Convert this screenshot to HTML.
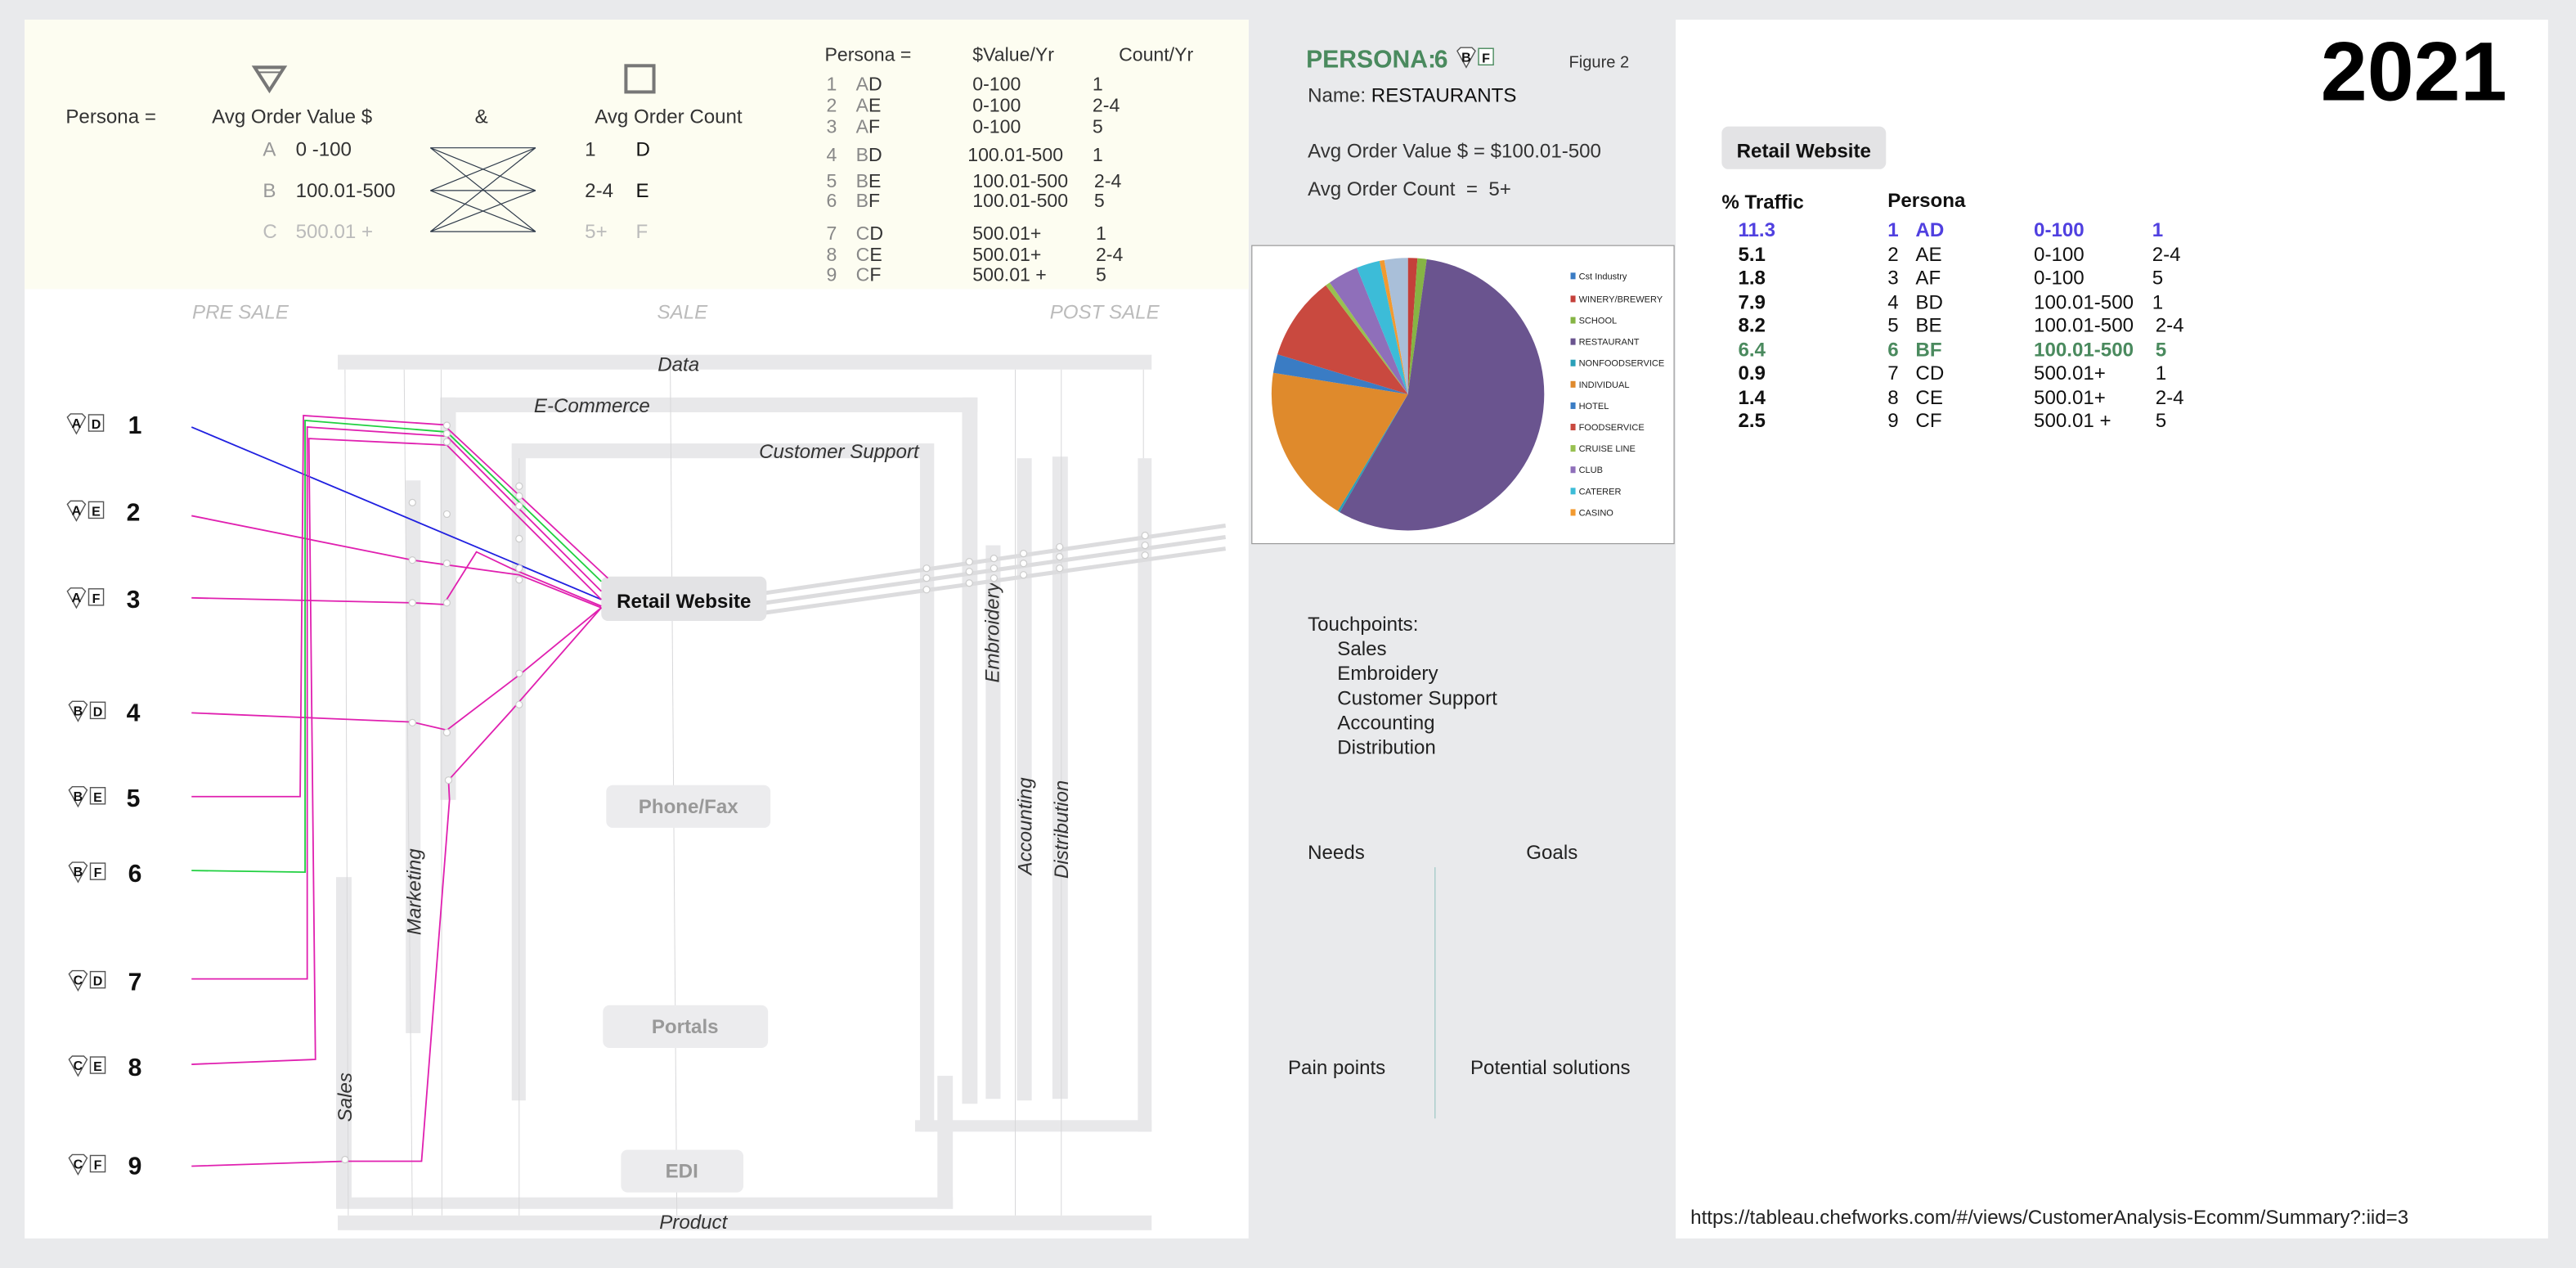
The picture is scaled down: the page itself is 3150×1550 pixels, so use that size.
<!DOCTYPE html>
<html><head><meta charset="utf-8"><style>
html,body{margin:0;padding:0;background:#e9eaec;}
svg{display:block;font-family:"Liberation Sans",sans-serif;}
</style></head><body>
<svg width="3150" height="1550" viewBox="0 0 1568 772" preserveAspectRatio="none" xmlns="http://www.w3.org/2000/svg">
<defs>
<g id="sh"><polygon points="0,-4 2,-6 9,-6 11,-4 5.5,6" fill="#fff" stroke="#555" stroke-width="0.7"/></g>
</defs>
<rect x="0" y="0" width="1568" height="772" fill="#e9eaec"/>
<rect x="15" y="12" width="745" height="742" fill="#fff"/>
<rect x="15" y="12" width="745" height="164" fill="#fdfdf1"/>
<rect x="1020" y="12" width="531" height="742" fill="#fff"/>

<g font-size="12" fill="#333">
<text x="40" y="75">Persona =</text>
<text x="129" y="75">Avg Order Value $</text>
<text x="289" y="75">&amp;</text>
<text x="362" y="75">Avg Order Count</text>
</g>
<polygon points="155,41 173,41 164,55" fill="none" stroke="#777" stroke-width="2"/>
<line x1="157" y1="44" x2="171" y2="44" stroke="#777" stroke-width="1"/>
<rect x="381" y="40" width="17" height="16" fill="none" stroke="#777" stroke-width="2"/>
<g font-size="12">
<text x="160" y="95" fill="#999">A</text><text x="180" y="95" fill="#333">0 -100</text>
<text x="160" y="120" fill="#999">B</text><text x="180" y="120" fill="#333">100.01-500</text>
<text x="160" y="145" fill="#bbb">C</text><text x="180" y="145" fill="#bbb">500.01 +</text>
<text x="356" y="95" fill="#333">1</text><text x="387" y="95" fill="#111">D</text>
<text x="356" y="120" fill="#333">2-4</text><text x="387" y="120" fill="#111">E</text>
<text x="356" y="145" fill="#bbb">5+</text><text x="387" y="145" fill="#bbb">F</text>
</g>
<g stroke="#2e3a4a" stroke-width="0.6">
<line x1="262" y1="90" x2="326" y2="90"/><line x1="262" y1="90" x2="326" y2="116"/><line x1="262" y1="90" x2="326" y2="141"/>
<line x1="262" y1="116" x2="326" y2="90"/><line x1="262" y1="116" x2="326" y2="116"/><line x1="262" y1="116" x2="326" y2="141"/>
<line x1="262" y1="141" x2="326" y2="90"/><line x1="262" y1="141" x2="326" y2="116"/><line x1="262" y1="141" x2="326" y2="141"/>
</g>
<g font-size="11.5" fill="#333">
<text x="502" y="37">Persona =</text><text x="592" y="37">$Value/Yr</text><text x="681" y="37">Count/Yr</text>
</g>
<g font-size="11.5" fill="#333">
<text x="503" y="55" fill="#888">1</text><text x="521" y="55"><tspan fill="#888">A</tspan>D</text><text x="592" y="55">0-100</text><text x="665" y="55">1</text>
<text x="503" y="68" fill="#888">2</text><text x="521" y="68"><tspan fill="#888">A</tspan>E</text><text x="592" y="68">0-100</text><text x="665" y="68">2-4</text>
<text x="503" y="81" fill="#888">3</text><text x="521" y="81"><tspan fill="#888">A</tspan>F</text><text x="592" y="81">0-100</text><text x="665" y="81">5</text>
<text x="503" y="98" fill="#888">4</text><text x="521" y="98"><tspan fill="#888">B</tspan>D</text><text x="589" y="98">100.01-500</text><text x="665" y="98">1</text>
<text x="503" y="114" fill="#888">5</text><text x="521" y="114"><tspan fill="#888">B</tspan>E</text><text x="592" y="114">100.01-500</text><text x="666" y="114">2-4</text>
<text x="503" y="126" fill="#888">6</text><text x="521" y="126"><tspan fill="#888">B</tspan>F</text><text x="592" y="126">100.01-500</text><text x="666" y="126">5</text>
<text x="503" y="146" fill="#888">7</text><text x="521" y="146"><tspan fill="#888">C</tspan>D</text><text x="592" y="146">500.01+</text><text x="667" y="146">1</text>
<text x="503" y="159" fill="#888">8</text><text x="521" y="159"><tspan fill="#888">C</tspan>E</text><text x="592" y="159">500.01+</text><text x="667" y="159">2-4</text>
<text x="503" y="171" fill="#888">9</text><text x="521" y="171"><tspan fill="#888">C</tspan>F</text><text x="592" y="171">500.01 +</text><text x="667" y="171">5</text>
</g>
<g font-size="12" fill="#bbb" font-style="italic">
<text x="117" y="194">PRE SALE</text><text x="400" y="194">SALE</text><text x="639" y="194">POST SALE</text>
</g>

<g fill="#e8e8ea">
<rect x="205.6" y="216" width="495.4" height="9"/>
<rect x="205.6" y="740" width="495.4" height="9"/>
<rect x="268" y="242" width="327" height="9"/>
<rect x="268" y="242" width="9.5" height="245"/>
<rect x="585.6" y="242" width="9.4" height="430"/>
<rect x="311.5" y="270" width="257" height="9"/>
<rect x="311.5" y="270" width="8.5" height="400"/>
<rect x="560" y="270" width="8.6" height="419"/>
<rect x="557" y="682" width="144" height="7"/>
<rect x="692.6" y="279" width="8.4" height="410"/>
<rect x="600" y="332" width="9" height="337"/>
<rect x="619" y="279" width="9" height="391"/>
<rect x="640.6" y="278" width="9.4" height="391"/>
<rect x="204.6" y="534" width="9.4" height="198"/>
<rect x="204.6" y="729" width="375.4" height="7"/>
<rect x="570.6" y="655" width="9.4" height="81"/>
<rect x="247" y="292.5" width="9" height="336.5"/>
</g>
<g stroke="#d8d8da" stroke-width="0.5">
<line x1="210" y1="225" x2="212" y2="740"/><line x1="246" y1="225" x2="251" y2="740"/>
<line x1="268.5" y1="225" x2="269" y2="740"/><line x1="316" y1="279" x2="316" y2="740"/>
<line x1="408" y1="225" x2="412" y2="740"/><line x1="618" y1="225" x2="618" y2="740"/>
<line x1="646" y1="225" x2="646" y2="740"/><line x1="696" y1="225" x2="696" y2="279"/>
</g>
<g font-size="12" fill="#333" font-style="italic">
<text x="413" y="226" text-anchor="middle">Data</text>
<text x="422" y="748" text-anchor="middle">Product</text>
<text x="325" y="251">E-Commerce</text>
<text x="462" y="279">Customer Support</text>
<text transform="translate(608,385) rotate(-90)" text-anchor="middle">Embroidery</text>
<text transform="translate(256,543) rotate(-90)" text-anchor="middle">Marketing</text>
<text transform="translate(628,503) rotate(-90)" text-anchor="middle">Accounting</text>
<text transform="translate(650,505) rotate(-90)" text-anchor="middle">Distribution</text>
<text transform="translate(214,668) rotate(-90)" text-anchor="middle">Sales</text>
</g>
<g stroke="#dcdcde" stroke-width="2.5">
<line x1="466" y1="361" x2="746" y2="320"/>
<line x1="466" y1="367" x2="746" y2="327"/>
<line x1="466" y1="373" x2="746" y2="334"/>
</g>
<rect x="366" y="351" width="100.6" height="27" rx="4" fill="#e3e3e5"/>
<text x="416.3" y="370" font-size="12" font-weight="bold" fill="#111" text-anchor="middle">Retail Website</text>
<rect x="369" y="478" width="100" height="26" rx="4" fill="#ececee"/>
<text x="419" y="495" font-size="12" font-weight="bold" fill="#999" text-anchor="middle">Phone/Fax</text>
<rect x="367" y="612" width="100.5" height="26" rx="4" fill="#ececee"/>
<text x="417" y="629" font-size="12" font-weight="bold" fill="#999" text-anchor="middle">Portals</text>
<rect x="378" y="700" width="74.5" height="26" rx="4" fill="#ececee"/>
<text x="415" y="717" font-size="12" font-weight="bold" fill="#999" text-anchor="middle">EDI</text>

<g fill="none" stroke-width="0.9">
<polyline stroke="#2020e0" points="116.6,260 366,365"/>
<polyline stroke="#e020b0" points="116.6,314 251,341 316,350 366,370"/>
<polyline stroke="#e020b0" points="116.6,364 251,367 270,368 290,336 311,346 366,369"/>
<polyline stroke="#e020b0" points="116.6,434 251,439.6 272,444.5 316,411 366,370"/>
<polyline stroke="#e020b0" points="116.6,485 182.7,485 184.7,253 270,258.6 370,352"/>
<polyline stroke="#20d040" points="116.6,530 185.7,531 185.7,256 272,263 366,354"/>
<polyline stroke="#e020b0" points="116.6,596 187,596 187,260 272,265.6 366,360"/>
<polyline stroke="#e020b0" points="116.6,648 192,645 188,267 272,271 366,365"/>
<polyline stroke="#e020b0" points="116.6,710 210,707 256.6,707 273.6,487 273,475 311,433 366,370"/>
</g>
<g fill="#fff" stroke="#ccc" stroke-width="0.6">
<circle cx="272" cy="259" r="2"/><circle cx="272" cy="264" r="2"/><circle cx="272" cy="269" r="2"/>
<circle cx="316" cy="296" r="2"/><circle cx="316" cy="302" r="2"/><circle cx="316" cy="308" r="2"/><circle cx="316" cy="328" r="2"/><circle cx="316" cy="346" r="2"/><circle cx="316" cy="353" r="2"/><circle cx="316" cy="410" r="2"/><circle cx="316" cy="429" r="2"/>
<circle cx="251" cy="306" r="2"/><circle cx="251" cy="341" r="2"/><circle cx="251" cy="367" r="2"/><circle cx="251" cy="440" r="2"/>
<circle cx="272" cy="313" r="2"/><circle cx="272" cy="343" r="2"/><circle cx="272" cy="367" r="2"/><circle cx="272" cy="446" r="2"/><circle cx="273" cy="475" r="2"/><circle cx="210" cy="706" r="2"/>
<circle cx="564" cy="346" r="2"/><circle cx="564" cy="352" r="2"/><circle cx="564" cy="359" r="2"/>
<circle cx="590" cy="342" r="2"/><circle cx="590" cy="348" r="2"/><circle cx="590" cy="355" r="2"/>
<circle cx="605" cy="340" r="2"/><circle cx="605" cy="346" r="2"/><circle cx="605" cy="352" r="2"/>
<circle cx="623" cy="337" r="2"/><circle cx="623" cy="343" r="2"/><circle cx="623" cy="350" r="2"/>
<circle cx="645" cy="333" r="2"/><circle cx="645" cy="339" r="2"/><circle cx="645" cy="346" r="2"/>
<circle cx="697" cy="326" r="2"/><circle cx="697" cy="332" r="2"/><circle cx="697" cy="338" r="2"/>
</g>

<g font-size="8" font-weight="bold" fill="#111" text-anchor="middle">
<g transform="translate(41,258)"><use href="#sh"/><text x="5.5" y="2.5">A</text><rect x="13" y="-5.5" width="9" height="10" fill="#fff" stroke="#555" stroke-width="0.7"/><text x="17.5" y="3">D</text></g>
<g transform="translate(41,311)"><use href="#sh"/><text x="5.5" y="2.5">A</text><rect x="13" y="-5.5" width="9" height="10" fill="#fff" stroke="#555" stroke-width="0.7"/><text x="17.5" y="3">E</text></g>
<g transform="translate(41,364)"><use href="#sh"/><text x="5.5" y="2.5">A</text><rect x="13" y="-5.5" width="9" height="10" fill="#fff" stroke="#555" stroke-width="0.7"/><text x="17.5" y="3">F</text></g>
<g transform="translate(42,433)"><use href="#sh"/><text x="5.5" y="2.5">B</text><rect x="13" y="-5.5" width="9" height="10" fill="#fff" stroke="#555" stroke-width="0.7"/><text x="17.5" y="3">D</text></g>
<g transform="translate(42,485)"><use href="#sh"/><text x="5.5" y="2.5">B</text><rect x="13" y="-5.5" width="9" height="10" fill="#fff" stroke="#555" stroke-width="0.7"/><text x="17.5" y="3">E</text></g>
<g transform="translate(42,531)"><use href="#sh"/><text x="5.5" y="2.5">B</text><rect x="13" y="-5.5" width="9" height="10" fill="#fff" stroke="#555" stroke-width="0.7"/><text x="17.5" y="3">F</text></g>
<g transform="translate(42,597)"><use href="#sh"/><text x="5.5" y="2.5">C</text><rect x="13" y="-5.5" width="9" height="10" fill="#fff" stroke="#555" stroke-width="0.7"/><text x="17.5" y="3">D</text></g>
<g transform="translate(42,649)"><use href="#sh"/><text x="5.5" y="2.5">C</text><rect x="13" y="-5.5" width="9" height="10" fill="#fff" stroke="#555" stroke-width="0.7"/><text x="17.5" y="3">E</text></g>
<g transform="translate(42,709)"><use href="#sh"/><text x="5.5" y="2.5">C</text><rect x="13" y="-5.5" width="9" height="10" fill="#fff" stroke="#555" stroke-width="0.7"/><text x="17.5" y="3">F</text></g>
</g>
<g font-size="15" font-weight="bold" fill="#111">
<text x="78" y="264">1</text><text x="77" y="317">2</text><text x="77" y="370">3</text>
<text x="77" y="439">4</text><text x="77" y="491">5</text><text x="78" y="537">6</text>
<text x="78" y="603">7</text><text x="78" y="655">8</text><text x="78" y="715">9</text>
</g>

<text x="795" y="41" font-size="15" font-weight="bold" fill="#4a8a5e">PERSONA:</text>
<text x="873" y="41" font-size="15" font-weight="bold" fill="#4a8a5e">6</text>
<g transform="translate(887,35)" font-size="8" font-weight="bold" fill="#111" text-anchor="middle"><use href="#sh"/><text x="5.5" y="2.5">B</text><rect x="13" y="-5.5" width="9" height="10" fill="#fff" stroke="#4a8a5e" stroke-width="0.7"/><text x="17.5" y="3">F</text></g>
<text x="955" y="41" font-size="10" fill="#333">Figure 2</text>
<text x="796" y="62" font-size="12" fill="#333">Name: <tspan fill="#111">RESTAURANTS</tspan></text>
<text x="796" y="96" font-size="12" fill="#333">Avg Order Value $ = $100.01-500</text>
<text x="796" y="119" font-size="12" fill="#333" xml:space="preserve">Avg Order Count  =  5+</text>

<rect x="762" y="149.5" width="257" height="181.5" fill="#fff" stroke="#999" stroke-width="0.6"/>
<g stroke="none">
<path d="M857,240 L857,157 A83,83 0 0,1 862.8,157.2Z" fill="#c4403a"/>
<path d="M857,240 L862.8,157.2 A83,83 0 0,1 868.5,157.8Z" fill="#86b444"/>
<path d="M857,240 L868.5,157.8 A83,83 0 1,1 815.5,311.9Z" fill="#6a548f"/>
<path d="M857,240 L815.5,311.9 A83,83 0 0,1 814.3,311.1Z" fill="#2aa0b8"/>
<path d="M857,240 L814.3,311.1 A83,83 0 0,1 775,227Z" fill="#df8a2c"/>
<path d="M857,240 L775,227 A83,83 0 0,1 777.6,215.7Z" fill="#3a7cc4"/>
<path d="M857,240 L777.6,215.7 A83,83 0 0,1 807,173.7Z" fill="#c9493f"/>
<path d="M857,240 L807,173.7 A83,83 0 0,1 809.4,172Z" fill="#98c050"/>
<path d="M857,240 L809.4,172 A83,83 0 0,1 825.9,163Z" fill="#8f6fba"/>
<path d="M857,240 L825.9,163 A83,83 0 0,1 839.7,158.8Z" fill="#3cbcd8"/>
<path d="M857,240 L839.7,158.8 A83,83 0 0,1 842.6,158.3Z" fill="#f29a30"/>
<path d="M857,240 L842.6,158.3 A83,83 0 0,1 857,157Z" fill="#a9bfd9"/>
</g>
<g font-size="5.5" fill="#222">
<rect x="956" y="166" width="3" height="4" fill="#3a7cc4"/><text x="961" y="170">Cst Industry</text>
<rect x="956" y="180" width="3" height="4" fill="#c4403a"/><text x="961" y="184">WINERY/BREWERY</text>
<rect x="956" y="193" width="3" height="4" fill="#86b444"/><text x="961" y="197">SCHOOL</text>
<rect x="956" y="206" width="3" height="4" fill="#6a548f"/><text x="961" y="210">RESTAURANT</text>
<rect x="956" y="219" width="3" height="4" fill="#2aa0b8"/><text x="961" y="223">NONFOODSERVICE</text>
<rect x="956" y="232" width="3" height="4" fill="#df8a2c"/><text x="961" y="236">INDIVIDUAL</text>
<rect x="956" y="245" width="3" height="4" fill="#3a7cc4"/><text x="961" y="249">HOTEL</text>
<rect x="956" y="258" width="3" height="4" fill="#c9493f"/><text x="961" y="262">FOODSERVICE</text>
<rect x="956" y="271" width="3" height="4" fill="#98c050"/><text x="961" y="275">CRUISE LINE</text>
<rect x="956" y="284" width="3" height="4" fill="#8f6fba"/><text x="961" y="288">CLUB</text>
<rect x="956" y="297" width="3" height="4" fill="#3cbcd8"/><text x="961" y="301">CATERER</text>
<rect x="956" y="310" width="3" height="4" fill="#f29a30"/><text x="961" y="314">CASINO</text>
</g>
<g font-size="12" fill="#222">
<text x="796" y="384">Touchpoints:</text>
<text x="814" y="399">Sales</text><text x="814" y="414">Embroidery</text><text x="814" y="429">Customer Support</text>
<text x="814" y="444">Accounting</text><text x="814" y="459">Distribution</text>
<text x="796" y="523">Needs</text><text x="929" y="523">Goals</text>
<text x="784" y="654">Pain points</text><text x="895" y="654">Potential solutions</text>
</g>
<line x1="873.5" y1="528" x2="873.5" y2="681" stroke="#9cc8c4" stroke-width="0.6"/>

<text x="1526" y="61" font-size="51" font-weight="bold" fill="#000" text-anchor="end">2021</text>
<rect x="1048" y="77" width="100" height="26" rx="4" fill="#e3e3e5"/>
<text x="1098" y="96" font-size="12" font-weight="bold" fill="#111" text-anchor="middle">Retail Website</text>
<g font-size="12" font-weight="bold" fill="#111">
<text x="1048" y="127">% Traffic</text><text x="1149" y="126">Persona</text>
</g>
<g font-size="12" fill="#111">
<g fill="#5040e0" font-weight="bold"><text x="1058" y="144">11.3</text><text x="1149" y="144">1</text><text x="1166" y="144">AD</text><text x="1238" y="144">0-100</text><text x="1310" y="144">1</text></g>
<text x="1058" y="159" font-weight="bold">5.1</text><text x="1149" y="159">2</text><text x="1166" y="159">AE</text><text x="1238" y="159">0-100</text><text x="1310" y="159">2-4</text>
<text x="1058" y="173" font-weight="bold">1.8</text><text x="1149" y="173">3</text><text x="1166" y="173">AF</text><text x="1238" y="173">0-100</text><text x="1310" y="173">5</text>
<text x="1058" y="188" font-weight="bold">7.9</text><text x="1149" y="188">4</text><text x="1166" y="188">BD</text><text x="1238" y="188">100.01-500</text><text x="1310" y="188">1</text>
<text x="1058" y="202" font-weight="bold">8.2</text><text x="1149" y="202">5</text><text x="1166" y="202">BE</text><text x="1238" y="202">100.01-500</text><text x="1312" y="202">2-4</text>
<g fill="#4a8a5e" font-weight="bold"><text x="1058" y="217">6.4</text><text x="1149" y="217">6</text><text x="1166" y="217">BF</text><text x="1238" y="217">100.01-500</text><text x="1312" y="217">5</text></g>
<text x="1058" y="231" font-weight="bold">0.9</text><text x="1149" y="231">7</text><text x="1166" y="231">CD</text><text x="1238" y="231">500.01+</text><text x="1312" y="231">1</text>
<text x="1058" y="246" font-weight="bold">1.4</text><text x="1149" y="246">8</text><text x="1166" y="246">CE</text><text x="1238" y="246">500.01+</text><text x="1312" y="246">2-4</text>
<text x="1058" y="260" font-weight="bold">2.5</text><text x="1149" y="260">9</text><text x="1166" y="260">CF</text><text x="1238" y="260">500.01 +</text><text x="1312" y="260">5</text>
</g>
<text x="1029" y="745" font-size="12" fill="#222">https://tableau.chefworks.com/#/views/CustomerAnalysis-Ecomm/Summary?:iid=3</text>
</svg>
</body></html>
